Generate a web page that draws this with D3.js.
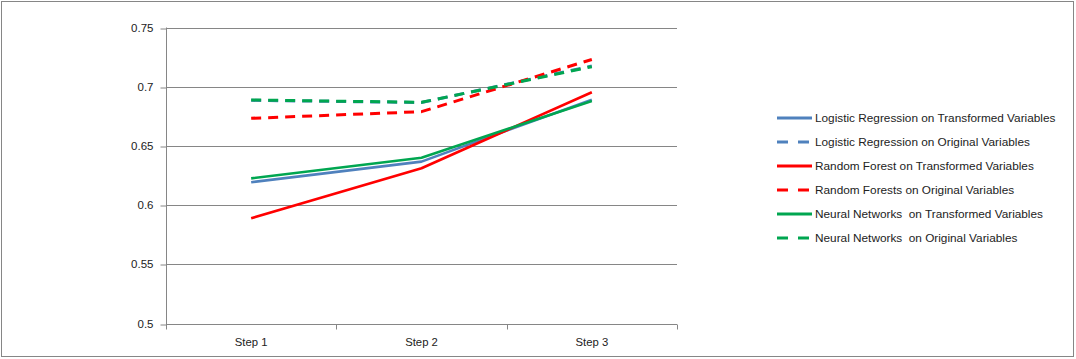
<!DOCTYPE html>
<html>
<head>
<meta charset="utf-8">
<script src="https://cdn.jsdelivr.net/npm/d3@7.9.0/dist/d3.min.js"></script>
<style>
  body { margin: 0; background: #fff; }
  svg text { font-family: "Liberation Sans", Arial, sans-serif; fill: #222; }
</style>
</head>
<body>
<svg width="1076" height="359"></svg>
<script>
// data
const steps = ['Step 1', 'Step 2', 'Step 3'];
const yTicks = [0.5, 0.55, 0.6, 0.65, 0.7, 0.75];

const lrTransformed = [0.6193, 0.6367, 0.6890];
const lrOriginal    = [0.6885, 0.6866, 0.7175];
const rfTransformed = [0.5889, 0.6311, 0.6953];
const rfOriginal    = [0.6733, 0.6789, 0.7230];
const nnTransformed = [0.6226, 0.6400, 0.6880];
const nnOriginal    = [0.6888, 0.6868, 0.7169];

const seriesNames = [
  'Logistic Regression on Transformed Variables',
  'Logistic Regression on Original Variables',
  'Random Forest on Transformed Variables',
  'Random Forests on Original Variables',
  'Neural Networks  on Transformed Variables',
  'Neural Networks  on Original Variables'
];
const seriesValues = [lrTransformed, lrOriginal, rfTransformed, rfOriginal, nnTransformed, nnOriginal];
const seriesColors = ['#4F81BD', '#4F81BD', '#FF0000', '#FF0000', '#00A650', '#00A650'];
const seriesDashed = [false, true, false, true, false, true];

const svg = d3.select('svg');
const plot = { left: 166, right: 677, top: 27.5, bottom: 323.5 };

// outer frame
svg.append('rect')
  .attr('x', 1.5).attr('y', 1.5)
  .attr('width', 1072).attr('height', 355)
  .attr('fill', 'none').attr('stroke', '#868686').attr('stroke-width', 1);

const x = d3.scaleBand().domain(steps).range([plot.left, plot.right]);
const y = d3.scaleLinear().domain([0.5, 0.75]).range([plot.bottom, plot.top]);

// gridlines
svg.append('g')
  .selectAll('line')
  .data(yTicks.slice(1))
  .join('line')
  .attr('x1', plot.left).attr('x2', plot.right)
  .attr('y1', d => Math.round(y(d)) + 0.5).attr('y2', d => Math.round(y(d)) + 0.5)
  .attr('stroke', '#868686');

// y axis
const yAxis = svg.append('g')
  .attr('transform', `translate(${plot.left + 0.5},0)`)
  .call(d3.axisLeft(y).tickValues(yTicks).tickFormat(d => String(d)).tickSize(6).tickPadding(7));
yAxis.selectAll('line, path').attr('stroke', '#868686');
yAxis.select('.domain').attr('d', `M0,${plot.top}V${plot.bottom + 5}`);
yAxis.selectAll('text').style('font-size', '11.5px');
yAxis.selectAll('.tick line').attr('transform', d => `translate(0,${Math.round(y(d)) + 0.5 - y(d)})`);

// x axis
const xAxis = svg.append('g')
  .attr('transform', `translate(0,${Math.round(plot.bottom) + 0.5})`)
  .call(d3.axisBottom(x).tickSize(0).tickPadding(13));
xAxis.select('.domain').attr('stroke', '#868686').attr('d', `M${plot.left},0H${plot.right}`);
xAxis.selectAll('text').style('font-size', '11.3px');
// tick marks at band boundaries
xAxis.selectAll('.bnd')
  .data(steps.concat(['end']))
  .join('line')
  .attr('class', 'bnd')
  .attr('x1', (d, i) => Math.round(plot.left + i * x.bandwidth()) + 0.5)
  .attr('x2', (d, i) => Math.round(plot.left + i * x.bandwidth()) + 0.5)
  .attr('y1', 0).attr('y2', 5)
  .attr('stroke', '#868686');

// series lines
const line = d3.line()
  .x((d, i) => x(steps[i]) + x.bandwidth() / 2)
  .y(d => y(d));

svg.append('g')
  .selectAll('path')
  .data(seriesValues)
  .join('path')
  .attr('d', d => line(d))
  .attr('fill', 'none')
  .attr('stroke', (d, i) => seriesColors[i])
  .attr('stroke-width', (d, i) => seriesDashed[i] ? 3 : 2.6)
  .attr('stroke-dasharray', (d, i) => seriesDashed[i] ? '10,7' : null)
  .attr('stroke-linejoin', 'round');

// legend
const legend = svg.append('g').attr('transform', 'translate(777,118)');
const rows = legend.selectAll('g')
  .data(seriesNames)
  .join('g')
  .attr('transform', (d, i) => `translate(0,${i * 24})`);
rows.append('line')
  .attr('x1', 0).attr('x2', 35)
  .attr('stroke', (d, i) => seriesColors[i])
  .attr('stroke-width', 3)
  .attr('stroke-dasharray', (d, i) => seriesDashed[i] ? '11,10' : null);
rows.append('text')
  .attr('x', 38).attr('dy', '0.35em')
  .style('font-size', '11.8px')
  .style('white-space', 'pre')
  .text(d => d);
</script>
</body>
</html>
